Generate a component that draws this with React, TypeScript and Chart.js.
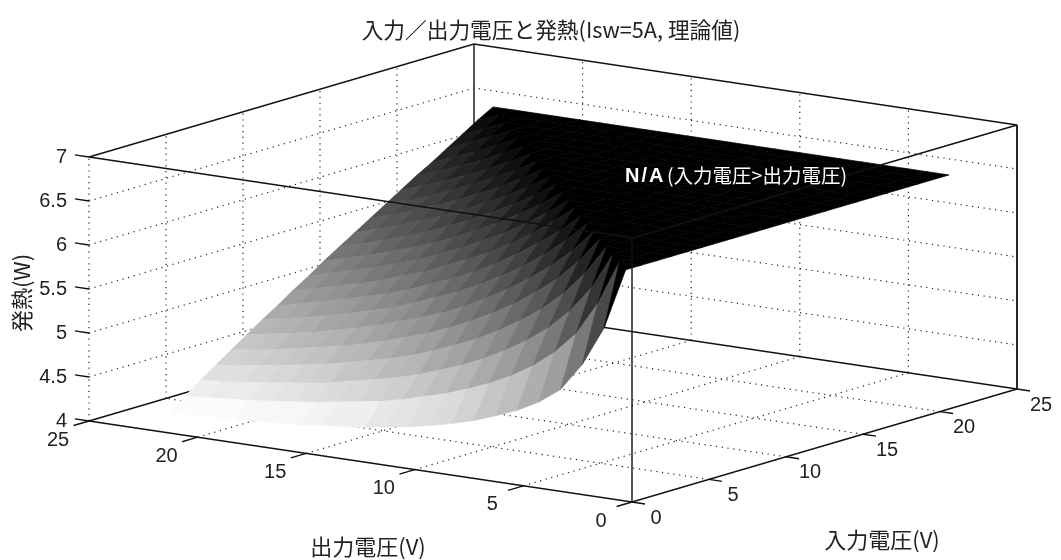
import React, { useEffect, useRef } from "react";
import { Chart, registerables } from "chart.js";

Chart.register(...registerables);

const titleText = "入力／出力電圧と発熱(Isw=5A, 理論値)";
const xLabelText = "出力電圧(V)";
const yLabelText = "入力電圧(V)";
const zLabelText = "発熱(W)";
const naHead = "N/A";
const naTail = "(入力電圧>出力電圧)";

const voltTicks = [0, 5, 10, 15, 20, 25];
const heatTicks = [4, 4.5, 5, 5.5, 6, 6.5, 7];
const gridVolts = [5, 10, 15, 20];
const voltMax = 25;
const heatMin = 4;
const heatMax = 7;
const naLevel = 6.55;

// heat[outputIndex][inputIndex]: output and input voltage 1..22 V; input > output has no value
const heat: number[][] = [
  [6.55],
  [5.85, 6.55],
  [5.40, 6.04, 6.55],
  [5.08, 5.66, 6.13, 6.55],
  [4.90, 5.41, 5.83, 6.21, 6.55],
  [4.77, 5.22, 5.60, 5.94, 6.26, 6.55],
  [4.67, 5.07, 5.42, 5.73, 6.02, 6.29, 6.55],
  [4.58, 4.95, 5.27, 5.56, 5.83, 6.08, 6.32, 6.55],
  [4.51, 4.85, 5.14, 5.41, 5.66, 5.90, 6.12, 6.34, 6.55],
  [4.45, 4.76, 5.03, 5.28, 5.52, 5.74, 5.95, 6.16, 6.36, 6.55],
  [4.40, 4.69, 4.94, 5.17, 5.39, 5.60, 5.80, 6.00, 6.18, 6.37, 6.55],
  [4.36, 4.62, 4.85, 5.07, 5.28, 5.47, 5.67, 5.85, 6.03, 6.21, 6.38, 6.55],
  [4.32, 4.56, 4.78, 4.98, 5.18, 5.36, 5.55, 5.72, 5.89, 6.06, 6.23, 6.39, 6.55],
  [4.29, 4.52, 4.72, 4.91, 5.10, 5.27, 5.45, 5.61, 5.78, 5.94, 6.09, 6.25, 6.40, 6.55],
  [4.27, 4.48, 4.67, 4.85, 5.02, 5.19, 5.35, 5.51, 5.67, 5.82, 5.97, 6.12, 6.26, 6.41, 6.55],
  [4.24, 4.44, 4.61, 4.79, 4.95, 5.11, 5.26, 5.41, 5.56, 5.71, 5.85, 6.00, 6.14, 6.27, 6.41, 6.55],
  [4.22, 4.41, 4.57, 4.73, 4.89, 5.04, 5.19, 5.33, 5.48, 5.61, 5.75, 5.89, 6.03, 6.16, 6.29, 6.42, 6.55],
  [4.21, 4.38, 4.54, 4.69, 4.84, 4.98, 5.12, 5.26, 5.39, 5.53, 5.66, 5.79, 5.92, 6.05, 6.18, 6.30, 6.43, 6.55],
  [4.19, 4.35, 4.50, 4.65, 4.79, 4.92, 5.06, 5.19, 5.32, 5.45, 5.58, 5.70, 5.83, 5.95, 6.07, 6.19, 6.31, 6.43, 6.55],
  [4.18, 4.33, 4.47, 4.61, 4.74, 4.87, 5.00, 5.13, 5.25, 5.38, 5.50, 5.62, 5.74, 5.86, 5.97, 6.09, 6.21, 6.32, 6.44, 6.55],
  [4.17, 4.31, 4.44, 4.57, 4.70, 4.83, 4.95, 5.07, 5.19, 5.31, 5.43, 5.54, 5.66, 5.77, 5.88, 6.00, 6.11, 6.22, 6.33, 6.44, 6.55],
  [4.15, 4.29, 4.42, 4.54, 4.66, 4.78, 4.90, 5.01, 5.13, 5.24, 5.36, 5.47, 5.58, 5.69, 5.80, 5.91, 6.02, 6.12, 6.23, 6.34, 6.45, 6.55],
];

const valueAt = (inIdx: number, outIdx: number) =>
  inIdx > outIdx ? naLevel : heat[outIdx][inIdx];

// view of the 3-D box on the page
const view = { x0: 632, y0: 502, inX: 385, inY: -113, outX: -543, outY: -81, up: 264 };
const project = (vin: number, vout: number, h: number) => ({
  x: view.x0 + (view.inX * vin) / voltMax + (view.outX * vout) / voltMax,
  y:
    view.y0 +
    (view.inY * vin) / voltMax +
    (view.outY * vout) / voltMax -
    (view.up * (h - heatMin)) / (heatMax - heatMin),
});

const LINE = "#111111";
const DOT = "#222222";

const lineDs = (pts: number[][], dotted: boolean, width = 1.4) => ({
  data: pts.map((p) => project(p[0], p[1], p[2])),
  showLine: true,
  fill: false,
  pointRadius: 0,
  borderColor: dotted ? DOT : LINE,
  borderWidth: dotted ? 1.2 : width,
  borderDash: dotted ? [1.2, 4.6] : [],
  clip: false as const,
});

function surfaceDatasets() {
  const n = heat.length;
  const quads: { d: number; ds: any }[] = [];
  const low = 4.15;
  for (let o = 0; o < n - 1; o++) {
    for (let i = 0; i < n - 1; i++) {
      const corners = [
        [i, o],
        [i + 1, o],
        [i + 1, o + 1],
        [i, o + 1],
        [i, o],
      ];
      const pts = corners.map(([a, b]) => project(a + 1, b + 1, valueAt(a, b)));
      const v = valueAt(i, o);
      const level = Math.round((63 * (naLevel - v)) / (naLevel - low));
      const g = Math.min(255, Math.round((level / 63) * 255));
      const col = `rgb(${g},${g},${g})`;
      quads.push({
        d: i + o,
        ds: {
          data: pts,
          showLine: true,
          fill: "shape",
          backgroundColor: col,
          borderColor: col,
          borderWidth: 0.7,
          pointRadius: 0,
          clip: false,
        },
      });
    }
  }
  quads.sort((a, b) => a.d - b.d);
  return quads.map((q) => q.ds);
}

function frontDatasets() {
  const out: any[] = [];
  // edges in front of the surface
  out.push(lineDs([[0, voltMax, heatMax], [0, 0, heatMax], [voltMax, 0, heatMax]], false));
  out.push(lineDs([[0, 0, heatMin], [0, 0, heatMax]], false));
  out.push(lineDs([[0, voltMax, heatMin], [0, 0, heatMin], [voltMax, 0, heatMin]], false));
  out.push(lineDs([[voltMax, 0, heatMin], [voltMax, 0, heatMax]], false, 1.8));
  // ticks
  voltTicks.forEach((t) => {
    out.push(lineDs([[0, t, heatMin], [-1, t, heatMin]], false));
    out.push(lineDs([[t, 0, heatMin], [t, -0.6, heatMin]], false));
  });
  heatTicks.forEach((h) => {
    out.push(lineDs([[0, voltMax, h], [0, voltMax + 0.65, h]], false));
  });
  return out;
}

function backDatasets() {
  const out: any[] = [];
  out.push(lineDs([[0, voltMax, heatMax], [voltMax, voltMax, heatMax], [voltMax, 0, heatMax]], false));
  out.push(lineDs([[voltMax, voltMax, heatMin], [voltMax, voltMax, heatMax]], false));
  out.push(lineDs([[0, voltMax, heatMin], [voltMax, voltMax, heatMin], [voltMax, 0, heatMin]], false));
  out.push(lineDs([[0, voltMax, heatMin], [0, voltMax, heatMax]], true));
  gridVolts.forEach((t) => {
    out.push(lineDs([[t, 0, heatMin], [t, voltMax, heatMin]], true));
    out.push(lineDs([[0, t, heatMin], [voltMax, t, heatMin]], true));
    out.push(lineDs([[t, voltMax, heatMin], [t, voltMax, heatMax]], true));
    out.push(lineDs([[voltMax, t, heatMin], [voltMax, t, heatMax]], true));
  });
  heatTicks.slice(1, -1).forEach((h) => {
    out.push(lineDs([[0, voltMax, h], [voltMax, voltMax, h], [voltMax, 0, h]], true));
  });
  return out;
}

const textPlugin = {
  id: "boxText",
  afterDraw(chart: any) {
    const ctx = chart.ctx as CanvasRenderingContext2D;
    const sx = chart.scales.x;
    const sy = chart.scales.y;
    const jp = '"Noto Sans CJK JP", "Liberation Sans", sans-serif';
    const num = '"Liberation Sans", Arial, sans-serif';
    const put = (s: string, x: number, y: number, font: string, color = "#222", align: CanvasTextAlign = "center") => {
      ctx.font = font;
      ctx.fillStyle = color;
      ctx.textAlign = align;
      ctx.textBaseline = "middle";
      ctx.fillText(s, x, y);
    };
    ctx.save();
    put(titleText, 551, 30, `21.7px ${jp}`);
    put(xLabelText, 368, 547, `22px ${jp}`);
    put(yLabelText, 882, 540, `22px ${jp}`);
    (ctx as any).letterSpacing = "2px";
    put(naHead, 625, 176, `bold 20px ${num}`, "#ffffff", "left");
    (ctx as any).letterSpacing = "0px";
    put(naTail, 667, 176, `19.5px ${jp}`, "#ffffff", "left");
    voltTicks.forEach((t) => {
      const a = project(0, t, heatMin);
      put(String(t), sx.getPixelForValue(a.x) - 31, sy.getPixelForValue(a.y) + 19, `20px ${num}`);
      const b = project(t, 0, heatMin);
      put(String(t), sx.getPixelForValue(b.x) + 24, sy.getPixelForValue(b.y) + 16, `20px ${num}`);
    });
    heatTicks.forEach((h) => {
      const p = project(0, voltMax, h);
      put(String(h), sx.getPixelForValue(p.x) - 22, sy.getPixelForValue(p.y), `20px ${num}`, "#222", "right");
    });
    ctx.translate(22, 293);
    ctx.rotate(-Math.PI / 2);
    put(zLabelText, 0, 0, `22px ${jp}`);
    ctx.restore();
  },
};

export default function App() {
  const ref = useRef<HTMLCanvasElement>(null);
  useEffect(() => {
    const chart = new Chart(ref.current as HTMLCanvasElement, {
      type: "scatter",
      data: { datasets: [...frontDatasets(), ...surfaceDatasets(), ...backDatasets()] as any },
      options: {
        animation: false,
        responsive: false,
        devicePixelRatio: 1,
        events: [],
        layout: { padding: 0 },
        plugins: { legend: { display: false }, tooltip: { enabled: false }, title: { display: false } },
        scales: {
          x: { type: "linear", min: 0, max: 1061, display: false },
          y: { type: "linear", min: 0, max: 560, reverse: true, display: false },
        },
      },
      plugins: [textPlugin],
    } as any);
    return () => chart.destroy();
  }, []);
  return (
    <canvas
      ref={ref}
      width={1061}
      height={560}
      style={{ position: "absolute", left: 0, top: 0, display: "block", background: "#fff" }}
    />
  );
}
